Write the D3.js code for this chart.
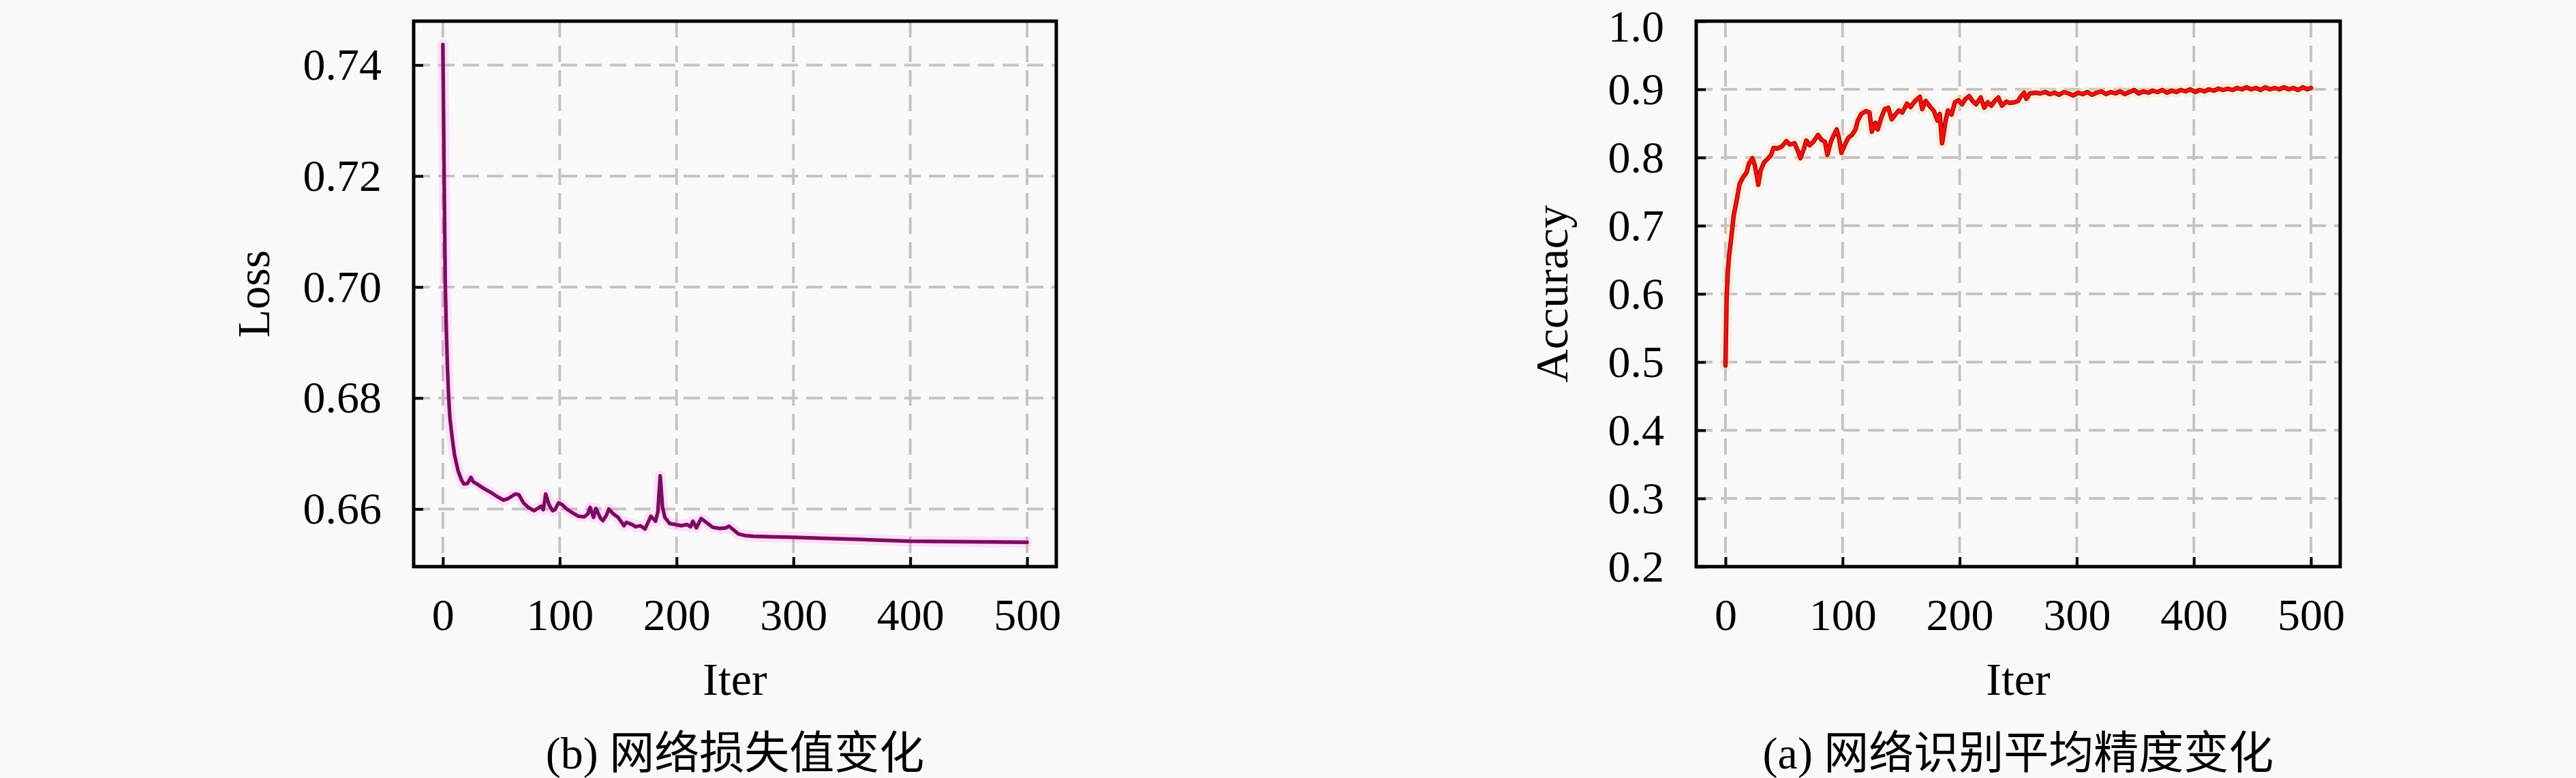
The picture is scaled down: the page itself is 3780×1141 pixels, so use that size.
<!DOCTYPE html>
<html><head><meta charset="utf-8">
<script src="https://cdn.jsdelivr.net/npm/d3@7"></script>
<style>
body{margin:0;background:#f9f9f9}
text{font-family:"Liberation Serif","Noto Sans CJK SC",serif;fill:#000}
</style>
</head><body>
<svg id="c" width="3780" height="1141"></svg>
<script>
// ---- data ----
const xTicks = [0, 100, 200, 300, 400, 500];
const xTickLabels = ["0", "100", "200", "300", "400", "500"];
const lossTicks = [0.66, 0.68, 0.70, 0.72, 0.74];
const lossTickLabels = ["0.66", "0.68", "0.70", "0.72", "0.74"];
const accTicks = [0.2, 0.3, 0.4, 0.5, 0.6, 0.7, 0.8, 0.9, 1.0];
const accTickLabels = ["0.2", "0.3", "0.4", "0.5", "0.6", "0.7", "0.8", "0.9", "1.0"];

const lossIter = [0,1,2,3,4,5,6,8,10,13,16,18,21,24,26,30,35,41,46,52,56,62,65,69,73,78,81,84,86,88,91,94,96,99,102,106,111,116,121,124,126,129,131,135,137,140,142,146,150,155,157,162,165,169,173,178,182,184,186,188,190,194,199,204,209,212,214,217,221,226,231,237,242,245,249,253,259,266,280,300,330,360,400,450,500];
const lossVal = [0.7437,0.722,0.701,0.692,0.685,0.680,0.6765,0.6728,0.6697,0.6669,0.6652,0.6645,0.6646,0.6657,0.6649,0.6644,0.6637,0.6630,0.6623,0.6616,0.6619,0.6627,0.6626,0.6611,0.6603,0.6597,0.6601,0.6605,0.6599,0.6627,0.6607,0.6597,0.6599,0.6611,0.6608,0.6600,0.6593,0.6587,0.6586,0.6591,0.6603,0.6585,0.6601,0.6583,0.6579,0.6589,0.6600,0.6591,0.6585,0.6570,0.6576,0.6572,0.6568,0.6570,0.6564,0.6587,0.6578,0.6595,0.6660,0.6603,0.6585,0.6574,0.6572,0.6570,0.6572,0.6568,0.6578,0.6566,0.6583,0.6575,0.6567,0.6565,0.6566,0.6569,0.6562,0.6555,0.6552,0.6551,0.6550,0.6549,0.6547,0.6545,0.6542,0.6541,0.6540];

const accIter = [0,1,2,3,5,7,10,12,15,18,20,23,25,27,28,30,33,36,39,41,44,48,52,55,59,62,64,67,69,72,75,79,82,85,87,90,92,95,97,99,102,105,108,111,113,116,120,123,125,128,130,133,136,139,142,145,148,151,155,158,162,166,168,171,175,178,181,183,185,188,190,193,196,199,202,205,208,211,214,218,221,224,227,230,233,236,240,243,247,250,252,255,257,260,265,269,273,277,281,285,289,293,297,301,305,309,313,317,321,325,329,333,337,341,345,349,353,357,361,365,369,373,377,381,385,389,393,397,401,405,409,413,417,421,425,429,433,437,441,445,449,453,457,461,465,469,473,477,481,485,489,493,497,500];
const accVal = [0.495,0.595,0.632,0.655,0.683,0.715,0.741,0.761,0.771,0.778,0.791,0.799,0.789,0.771,0.760,0.781,0.793,0.798,0.804,0.814,0.813,0.816,0.824,0.819,0.821,0.809,0.799,0.813,0.825,0.818,0.823,0.833,0.826,0.823,0.804,0.823,0.831,0.841,0.828,0.807,0.819,0.829,0.833,0.841,0.854,0.864,0.868,0.866,0.838,0.851,0.841,0.858,0.871,0.873,0.856,0.863,0.869,0.866,0.879,0.874,0.883,0.889,0.871,0.883,0.874,0.868,0.854,0.864,0.821,0.854,0.869,0.863,0.881,0.884,0.878,0.886,0.890,0.883,0.878,0.888,0.873,0.881,0.876,0.883,0.888,0.876,0.882,0.880,0.881,0.883,0.889,0.895,0.886,0.894,0.895,0.894,0.896,0.893,0.895,0.892,0.896,0.894,0.891,0.895,0.893,0.896,0.892,0.895,0.897,0.893,0.896,0.894,0.897,0.893,0.896,0.899,0.894,0.897,0.895,0.898,0.896,0.899,0.895,0.898,0.896,0.899,0.897,0.900,0.896,0.899,0.897,0.900,0.898,0.901,0.899,0.901,0.899,0.902,0.900,0.903,0.900,0.902,0.899,0.903,0.900,0.902,0.900,0.903,0.900,0.902,0.899,0.903,0.900,0.902];

// ---- drawing ----
const svg = d3.select("#c");
svg.append("rect").attr("width", 3780).attr("height", 1141).attr("fill", "#f9f9f9");

function panel(cfg) {
  const g = svg.append("g");
  const x = d3.scaleLinear().domain([-25, 525]).range([cfg.left, cfg.right]);
  const y = d3.scaleLinear().domain(cfg.yDomain).range([cfg.bottom, cfg.top]);

  // grid
  const grid = g.append("g").attr("stroke", "#c4c4c4").attr("stroke-width", 4)
    .attr("stroke-dasharray", "24,12").attr("fill", "none");
  grid.selectAll(".gx").data(xTicks).join("line")
    .attr("x1", d => x(d)).attr("x2", d => x(d)).attr("y1", cfg.top).attr("y2", cfg.bottom);
  grid.selectAll(".gy").data(cfg.yTicks).join("line").attr("class", "gy")
    .attr("y1", d => y(d)).attr("y2", d => y(d)).attr("x1", cfg.left).attr("x2", cfg.right);

  // data line
  const pts = cfg.xs.map((v, i) => [v, cfg.ys[i]]);
  const line = d3.line().x(d => x(d[0])).y(d => y(d[1]));
  cfg.strokes.forEach(s => {
    g.append("path").datum(pts).attr("d", line).attr("fill", "none")
      .attr("stroke", s.c).attr("stroke-width", s.w).attr("stroke-opacity", s.o)
      .attr("stroke-linejoin", "round").attr("stroke-linecap", "round");
  });

  // axes (inward ticks)
  const ax = g.append("g").attr("transform", `translate(0,${cfg.bottom})`)
    .call(d3.axisBottom(x).tickValues(xTicks).tickFormat((d, i) => xTickLabels[i])
      .tickSizeInner(-14).tickSizeOuter(0).tickPadding(46));
  const ay = g.append("g").attr("transform", `translate(${cfg.left},0)`)
    .call(d3.axisLeft(y).tickValues(cfg.yTicks).tickFormat((d, i) => cfg.yLabels[i])
      .tickSizeInner(-14).tickSizeOuter(0).tickPadding(47));
  [ax, ay].forEach(a => {
    a.select(".domain").remove();
    a.selectAll(".tick line").attr("stroke", "#000").attr("stroke-width", 4);
    a.selectAll(".tick text").attr("font-size", 66)
      .attr("font-family", '"Liberation Serif",serif').attr("fill", "#000");
  });
  // keep the top-most y label inside the picture
  ay.selectAll(".tick text").filter(d => y(d) < 45).attr("dy", "0.44em");

  // frame
  g.append("rect").attr("x", cfg.left).attr("y", cfg.top)
    .attr("width", cfg.right - cfg.left).attr("height", cfg.bottom - cfg.top)
    .attr("fill", "none").attr("stroke", "#000").attr("stroke-width", 5);

  const cx = (cfg.left + cfg.right) / 2;
  g.append("text").attr("x", cx).attr("y", 1019).attr("text-anchor", "middle")
    .attr("font-size", 68).text(cfg.xLabel);
  g.append("text").attr("transform", `translate(${cfg.yLabelX},${(cfg.top + cfg.bottom) / 2}) rotate(-90)`)
    .attr("text-anchor", "middle").attr("font-size", 68).text(cfg.yLabel);
  g.append("text").attr("x", cx).attr("y", 1127).attr("text-anchor", "middle")
    .attr("font-size", 66).text(cfg.caption);
}

panel({
  left: 607, right: 1550, top: 31, bottom: 831,
  yDomain: [0.64962, 0.74791], yTicks: lossTicks, yLabels: lossTickLabels,
  xs: lossIter, ys: lossVal,
  strokes: [
    {c: "#ff66ff", w: 16, o: 0.16},
    {c: "#c8103c", w: 5.5, o: 1},
    {c: "#66106e", w: 4.2, o: 0.92}
  ],
  xLabel: "Iter", yLabel: "Loss", yLabelX: 395, caption: "(b) 网络损失值变化"
});

panel({
  left: 2489, right: 3434, top: 31, bottom: 831,
  yDomain: [0.2, 1.0], yTicks: accTicks, yLabels: accTickLabels,
  xs: accIter, ys: accVal,
  strokes: [
    {c: "#ffd0a0", w: 16, o: 0.35},
    {c: "#701010", w: 6.5, o: 1},
    {c: "#ff0a0a", w: 4.5, o: 1}
  ],
  xLabel: "Iter", yLabel: "Accuracy", yLabelX: 2300, caption: "(a) 网络识别平均精度变化"
});
</script>
</body></html>
